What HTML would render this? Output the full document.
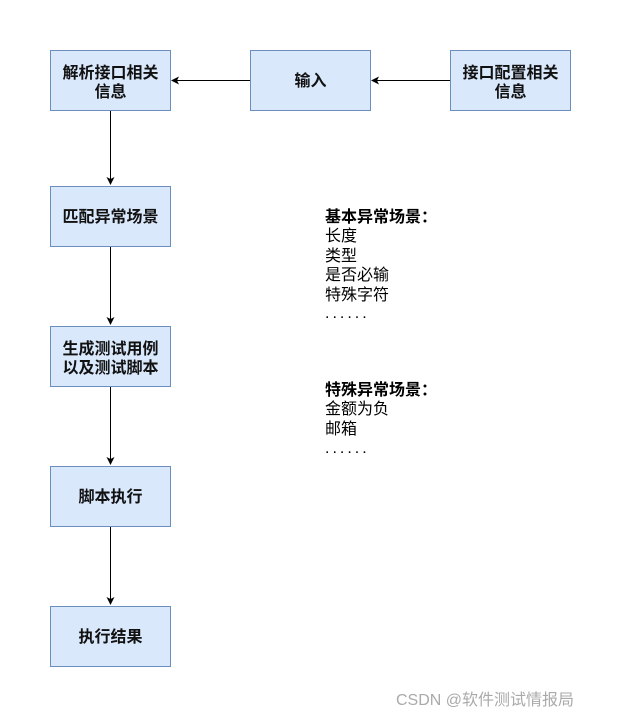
<!DOCTYPE html>
<html><head><meta charset="utf-8"><style>
html,body{margin:0;padding:0;background:#fff;}
svg text{font-family:"Liberation Sans","Noto Sans CJK SC","WenQuanYi Zen Hei",sans-serif;}
</style></head><body>
<svg width="621" height="718" viewBox="0 0 621 718" xmlns="http://www.w3.org/2000/svg">
<defs><marker id="a" markerWidth="10" markerHeight="10" refX="7" refY="4" orient="auto" markerUnits="userSpaceOnUse"><path d="M0,0 L8,4 L0,8 L2,4 Z" fill="#000"/></marker></defs>
<g fill="#dae8fc" stroke="#6c8ebf" stroke-width="1">
<rect x="50.5" y="50.5" width="120" height="60"/>
<rect x="250.5" y="50.5" width="120" height="60"/>
<rect x="450.5" y="50.5" width="120" height="60"/>
<rect x="50.5" y="186.5" width="120" height="60"/>
<rect x="50.5" y="326.5" width="120" height="60"/>
<rect x="50.5" y="466.5" width="120" height="60"/>
<rect x="50.5" y="606.5" width="120" height="60"/>
</g>
<g stroke="#000" stroke-width="1" fill="none">
<line x1="450" y1="80.5" x2="372" y2="80.5" marker-end="url(#a)"/>
<line x1="250" y1="80.5" x2="172" y2="80.5" marker-end="url(#a)"/>
<line x1="110.5" y1="111" x2="110.5" y2="184" marker-end="url(#a)"/>
<line x1="110.5" y1="247" x2="110.5" y2="324" marker-end="url(#a)"/>
<line x1="110.5" y1="387" x2="110.5" y2="464" marker-end="url(#a)"/>
<line x1="110.5" y1="527" x2="110.5" y2="604" marker-end="url(#a)"/>
</g>
<g font-size="16" font-weight="bold" fill="#111" text-anchor="middle">
<text x="110.5" y="78">解析接口相关</text><text x="110.5" y="97">信息</text>
<text x="310.5" y="86">输入</text>
<text x="510.5" y="78">接口配置相关</text><text x="510.5" y="97">信息</text>
<text x="110.5" y="222">匹配异常场景</text>
<text x="110.5" y="354">生成测试用例</text><text x="110.5" y="373">以及测试脚本</text>
<text x="110.5" y="502">脚本执行</text>
<text x="110.5" y="642">执行结果</text>
</g>
<g font-size="16" fill="#000">
<text x="325" y="222" font-weight="bold">基本异常场景：</text>
<text x="325" y="241">长度</text>
<text x="325" y="261">类型</text>
<text x="325" y="280">是否必输</text>
<text x="325" y="300">特殊字符</text>
<text x="325" y="318" letter-spacing="3">......</text>
<text x="325" y="395" font-weight="bold">特殊异常场景：</text>
<text x="325" y="414">金额为负</text>
<text x="325" y="434">邮箱</text>
<text x="325" y="453" letter-spacing="3">......</text>
</g>
<text x="396" y="705" font-size="16" fill="#aaa">CSDN @软件测试情报局</text>
</svg>
</body></html>
